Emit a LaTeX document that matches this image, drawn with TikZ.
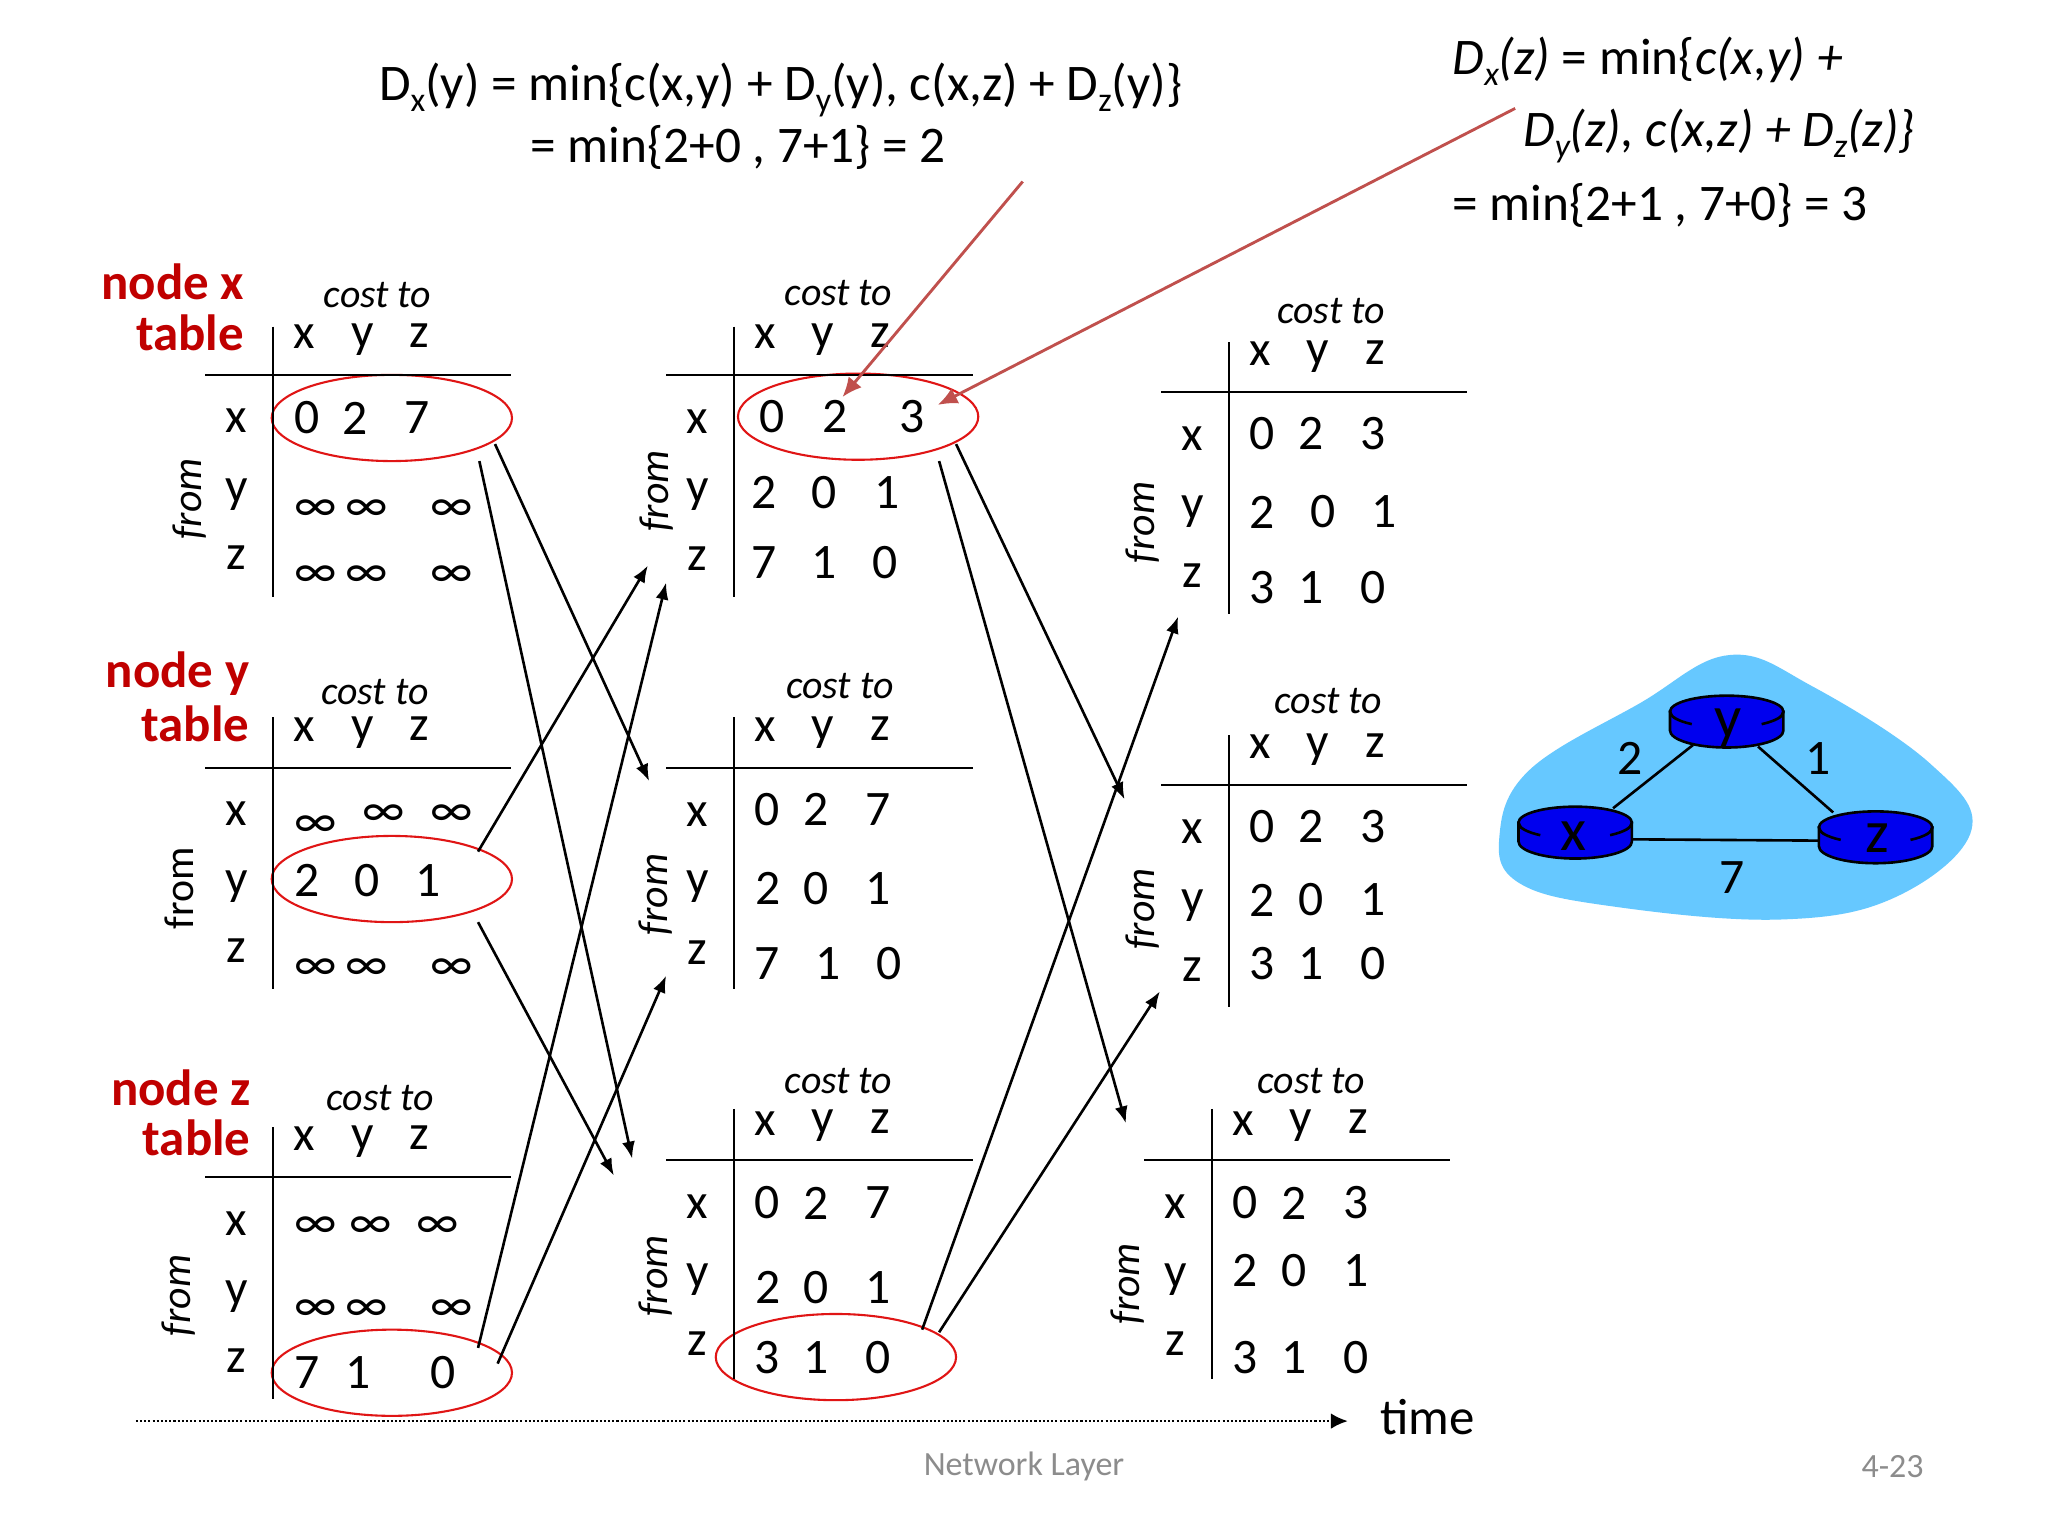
\documentclass[tikz,border=0pt]{standalone}
\usepackage{fontspec}
\setmainfont{Carlito}
\usetikzlibrary{arrows.meta,shapes.geometric}
\definecolor{nodered}{HTML}{C00000}
\definecolor{ringred}{HTML}{E01515}
\definecolor{callout}{HTML}{C0504D}
\definecolor{cloudblue}{HTML}{66C8FF}
\definecolor{routerblue}{HTML}{0000EE}
\definecolor{footgray}{HTML}{8C8C8C}
\newcommand\fs[1]{\fontsize{#1}{#1}\selectfont}
\newcommand\lowsub[1]{\raisebox{-.22em}{\fs{26}#1}}
\newcommand\inft{\raisebox{-14pt}[0pt][0pt]{∞}}
\newcommand\rowvals[3]{\foreach \xx/\vv [count=\ii] in {#3} {\node[val] (#1c\ii) at (\xx,#2) {\vv};}}
\newcommand\tablebox[7]{\draw[rule] (#2,#3) -- (#2,#4); \draw[rule] (#6,#5) -- (#7,#5);}
\newcommand\tablehead[8]{%
  \node[cost] (#1cost) at (#2,#3) {cost to};
  \node[val,yshift=-2pt] (#1hx) at (#5,#4) {x};
  \node[val,yshift=-4pt] (#1hy) at (#6,#4) {y};
  \node[val,yshift=-1pt] (#1hz) at (#7,#4) {z};}
\newcommand\tablerows[6]{%
  \node[val,yshift=-2pt] (#1lx) at (#2,#3) {x};
  \node[val,yshift=-4pt] (#1ly) at (#2,#4) {y};
  \node[val,yshift=-2pt] (#1lz) at (#2,#5) {z};}
\tikzset{
  rule/.style={black,line width=1.7pt},
  val/.style={inner sep=0pt,font=\fs{38}},
  cost/.style={inner sep=0pt,font=\fs{30.5}\itshape},
  fromlab/.style={inner sep=0pt,font=\fs{32}\itshape,rotate=90},
  ttl/.style={inner sep=0pt,anchor=east,text=nodered,font=\fs{39}\bfseries},
  ring/.style={draw=ringred,line width=1.6pt,ellipse,inner sep=0pt,minimum width=184pt,minimum height=66pt},
  arr/.style={black,line width=2pt,-{Latex[length=13pt,width=10pt]}},
  redarr/.style={callout,line width=2.2pt,-{Latex[length=15pt,width=13pt]}},
  eq/.style={inner sep=0pt,anchor=west,font=\fs{39.3}},
  foot/.style={inner sep=0pt,text=footgray,font=\fs{26}},
  router/.style={fill=routerblue,draw=black,line width=2pt},
}
\newcommand\routerdisk[3]{%
  \path[router] (#2-43.4,#3) -- (#2-43.4,#3+14.5) arc[start angle=180,end angle=360,x radius=43.4pt,y radius=13pt] -- (#2+43.4,#3) -- cycle;
  \draw[router] (#2,#3) circle[x radius=43.4pt,y radius=12.2pt];
  \fill[routerblue] (#2,#3+3) circle[x radius=41pt,y radius=12pt];
  \draw[black,line width=2pt] (#2-43.4,#3) arc[start angle=180,end angle=232,x radius=43.4pt,y radius=12.2pt];
  \draw[black,line width=2pt] (#2+43.4,#3) arc[start angle=360,end angle=308,x radius=43.4pt,y radius=12.2pt];
}
\begin{document}
\begin{tikzpicture}[x=1pt,y=-1pt]
\useasboundingbox (0,0) rectangle (1568,1176);
\fill[white] (0,0) rectangle (1568,1176);

% formulas
\node[eq] (f1a) at (290,69) {D\lowsub{x}(y) = min\{c(x,y) + D\lowsub{y}(y), c(x,z) + D\lowsub{z}(y)\}};
\node[eq] (f1b) at (406,113) {= min\{2+0 , 7+1\} = 2};
\node[eq] (f2a) at (1112,47) {\itshape D\lowsub{x}(z) {\upshape = min\{}c(x,y) +};
\node[eq] (f2b) at (1166,104) {\itshape D\lowsub{y}(z), c(x,z) + D\lowsub{z}(z)\}};
\node[eq] (f2c) at (1112,157) {= min\{2+1 , 7+0\} = 3};

% titles
\node[ttl] (t1a) at (187,216) {node x};
\node[ttl] (t1b) at (187,255) {table};
\node[ttl] (t2a) at (191,516) {node y};
\node[ttl] (t2b) at (191,554) {table};
\node[ttl] (t3a) at (192,833) {node z};
\node[ttl] (t3b) at (192,871) {table};

% rings
\node[ring] (r1) at (300,320) {};
\node[ring] (r2) at (300,673) {};
\node[ring] (r3) at (300,1051) {};
\node[ring] (r4) at (657,319) {};
\node[ring] (r5) at (640,1039) {};

% column 1, table x
\tablebox{A}{209}{250}{457}{287}{157}{391}
\tablehead{A}{289}{226}{256}{233}{278}{321}{}
\tablerows{A}{181}{320}{375}{425}{}
\node[fromlab] (Afrom) at (145,382) {from};
\rowvals{Aa}{320}{235/0,272/2,319/7}
\rowvals{Ab}{385}{242/\inft,281/\inft,346/\inft}
\rowvals{Ac}{436}{242/\inft,281/\inft,346/\inft}

% column 1, table y
\tablebox{B}{209}{549}{757}{588}{157}{391}
\tablehead{B}{287}{530}{557}{233}{278}{321}{}
\tablerows{B}{181}{621}{675}{726}{}
\node[fromlab,font=\fs{32}] (Bfrom) at (137,680) {from};
\node[val] (Baa) at (242,627) {\inft};
\node[val] (Bab) at (294,619) {\inft};
\node[val] (Bac) at (346,619) {\inft};
\rowvals{Bb}{674}{235/2,281/0,328/1}
\rowvals{Bc}{737}{242/\inft,281/\inft,346/\inft}

% column 1, table z
\tablebox{C}{209}{863}{1071}{901}{157}{391}
\tablehead{C}{291}{841}{870}{233}{278}{321}{}
\tablerows{C}{181}{935}{989}{1040}{}
\node[fromlab] (Cfrom) at (137,992) {from};
\rowvals{Ca}{934}{242/\inft,284/\inft,335/\inft}
\rowvals{Cb}{998}{242/\inft,281/\inft,346/\inft}
\rowvals{Cc}{1051}{235/7,274/1,339/0}

% column 2
\tablebox{D}{562}{250}{457}{287}{510}{745}
\tablehead{D}{642}{224}{256}{586}{630}{674}{}
\tablerows{D}{534}{321}{375}{426}{}
\node[fromlab] (Dfrom) at (503,376) {from};
\rowvals{Da}{319}{591/0,639/2,698/3}
\rowvals{Db}{377}{585/2,631/0,679/1}
\rowvals{Dc}{431}{585/7,631/1,678/0}

\tablebox{E}{562}{549}{757}{588}{510}{745}
\tablehead{E}{643}{525}{557}{586}{630}{674}{}
\tablerows{E}{534}{622}{675}{727}{}
\node[fromlab] (Efrom) at (502,685) {from};
\rowvals{Ea}{620}{587/0,625/2,672/7}
\rowvals{Eb}{680}{588/2,625/0,672/1}
\rowvals{Ec}{738}{587/7,634/1,681/0}

\tablebox{F}{562}{849}{1056}{888}{510}{745}
\tablehead{F}{642}{828}{858}{586}{630}{674}{}
\tablerows{F}{534}{922}{976}{1027}{}
\node[fromlab] (Ffrom) at (502,977) {from};
\rowvals{Fa}{921}{587/0,625/2,672/7}
\rowvals{Fb}{986}{588/2,625/0,672/1}
\rowvals{Fc}{1039}{587/3,625/1,672/0}

% column 3
\tablebox{G}{941}{262}{470}{300}{889}{1123}
\tablehead{G}{1019}{238}{269}{965}{1009}{1053}{}
\tablerows{G}{913}{334}{388}{439}{}
\node[fromlab] (Gfrom) at (875,400) {from};
\rowvals{Ga}{332}{966/0,1004/2,1051/3}
\rowvals{Gb}{392}{966/2,1013/0,1060/1}
\rowvals{Gc}{450}{966/3,1004/1,1051/0}

\tablebox{H}{941}{563}{771}{601}{889}{1123}
\tablehead{H}{1017}{537}{570}{965}{1009}{1053}{}
\tablerows{H}{913}{635}{689}{740}{}
\node[fromlab] (Hfrom) at (875,696) {from};
\rowvals{Ha}{633}{966/0,1004/2,1051/3}
\rowvals{Hb}{689}{966/2,1004/0,1051/1}
\rowvals{Hc}{738}{966/3,1004/1,1051/0}

\tablebox{I}{928}{849}{1056}{888}{876}{1110}
\tablehead{I}{1004}{828}{858}{952}{996}{1040}{}
\tablerows{I}{900}{922}{976}{1027}{}
\node[fromlab] (Ifrom) at (863,983) {from};
\rowvals{Ia}{921}{953/0,991/2,1038/3}
\rowvals{Ib}{973}{953/2,991/0,1038/1}
\rowvals{Ic}{1039}{953/3,991/1,1038/0}

% arrow ends
\coordinate (a1s) at (379,340); \coordinate (a1e) at (497,598);
\coordinate (a2s) at (367,353); \coordinate (a2e) at (484,887);
\coordinate (a3s) at (366,652); \coordinate (a3e) at (496,433);
\coordinate (a4s) at (366,706); \coordinate (a4e) at (470,900);
\coordinate (a5s) at (366,1032); \coordinate (a5e) at (510,446);
\coordinate (a6s) at (381,1044); \coordinate (a6e) at (510,747);
\coordinate (b1s) at (732,340); \coordinate (b1e) at (861,612);
\coordinate (b2s) at (719,353); \coordinate (b2e) at (862,860);
\coordinate (b3s) at (706,1018); \coordinate (b3e) at (902,472);
\coordinate (b4s) at (719,1020); \coordinate (b4e) at (888,759);
\foreach \p in {a1,a2,a3,a4,a5,a6,b1,b2,b3,b4} \draw[arr] (\p s) -- (\p e);

\coordinate (c1s) at (783,139); \coordinate (c1e) at (645,304);
\coordinate (c2s) at (1160,83); \coordinate (c2e) at (718,310);
\draw[redarr] (c1s) -- (c1e);
\draw[redarr] (c2s) -- (c2e);

% time axis
\coordinate (ts) at (104,1088); \coordinate (te) at (1032,1088);
\draw[black,line width=2pt,dash pattern=on 1.6pt off 1.6pt,-{Latex[length=13pt,width=12pt]}] (ts) -- (te);
\node[inner sep=0pt,font=\fs{39}] (timelab) at (1093,1085) {time};
\node[foot] (footl) at (784,1123) {Network Layer};
\node[foot] (footr) at (1449,1123) {4-23};

% network
\fill[cloudblue] plot[smooth cycle,tension=0.65] coordinates {(1324,501.5) (1255.5,538.4) (1171,589.5) (1148,640) (1163,676) (1235,694) (1363,704) (1452,686.5) (1509.4,635.4) (1477.5,584.4) (1388,525.7)};
\coordinate (lxy1) at (1235,618.8); \coordinate (lxy2) at (1296.3,570.3);
\coordinate (lyz1) at (1346,571.6); \coordinate (lyz2) at (1403.5,622);
\coordinate (lxz1) at (1250,642.6); \coordinate (lxz2) at (1393.3,643.6);
\draw[black,line width=2pt] (lxy1) -- (lxy2);
\draw[black,line width=2pt] (lyz1) -- (lyz2);
\draw[black,line width=2pt] (lxz1) -- (lxz2);
\routerdisk{X}{1206}{629.8}
\routerdisk{Y}{1322}{544.8}
\routerdisk{Z}{1436}{633.4}
\node[inner sep=0pt,font=\fs{46}] (rxl) at (1205,640) {x};
\node[inner sep=0pt,font=\fs{46}] (ryl) at (1323,557) {y};
\node[inner sep=0pt,font=\fs{46}] (rzl) at (1437,642) {z};
\node[val] (w2) at (1248,580.5) {2};
\node[val] (w1) at (1392,581) {1};
\node[val] (w7) at (1326,671.6) {7};
\end{tikzpicture}
\end{document}
